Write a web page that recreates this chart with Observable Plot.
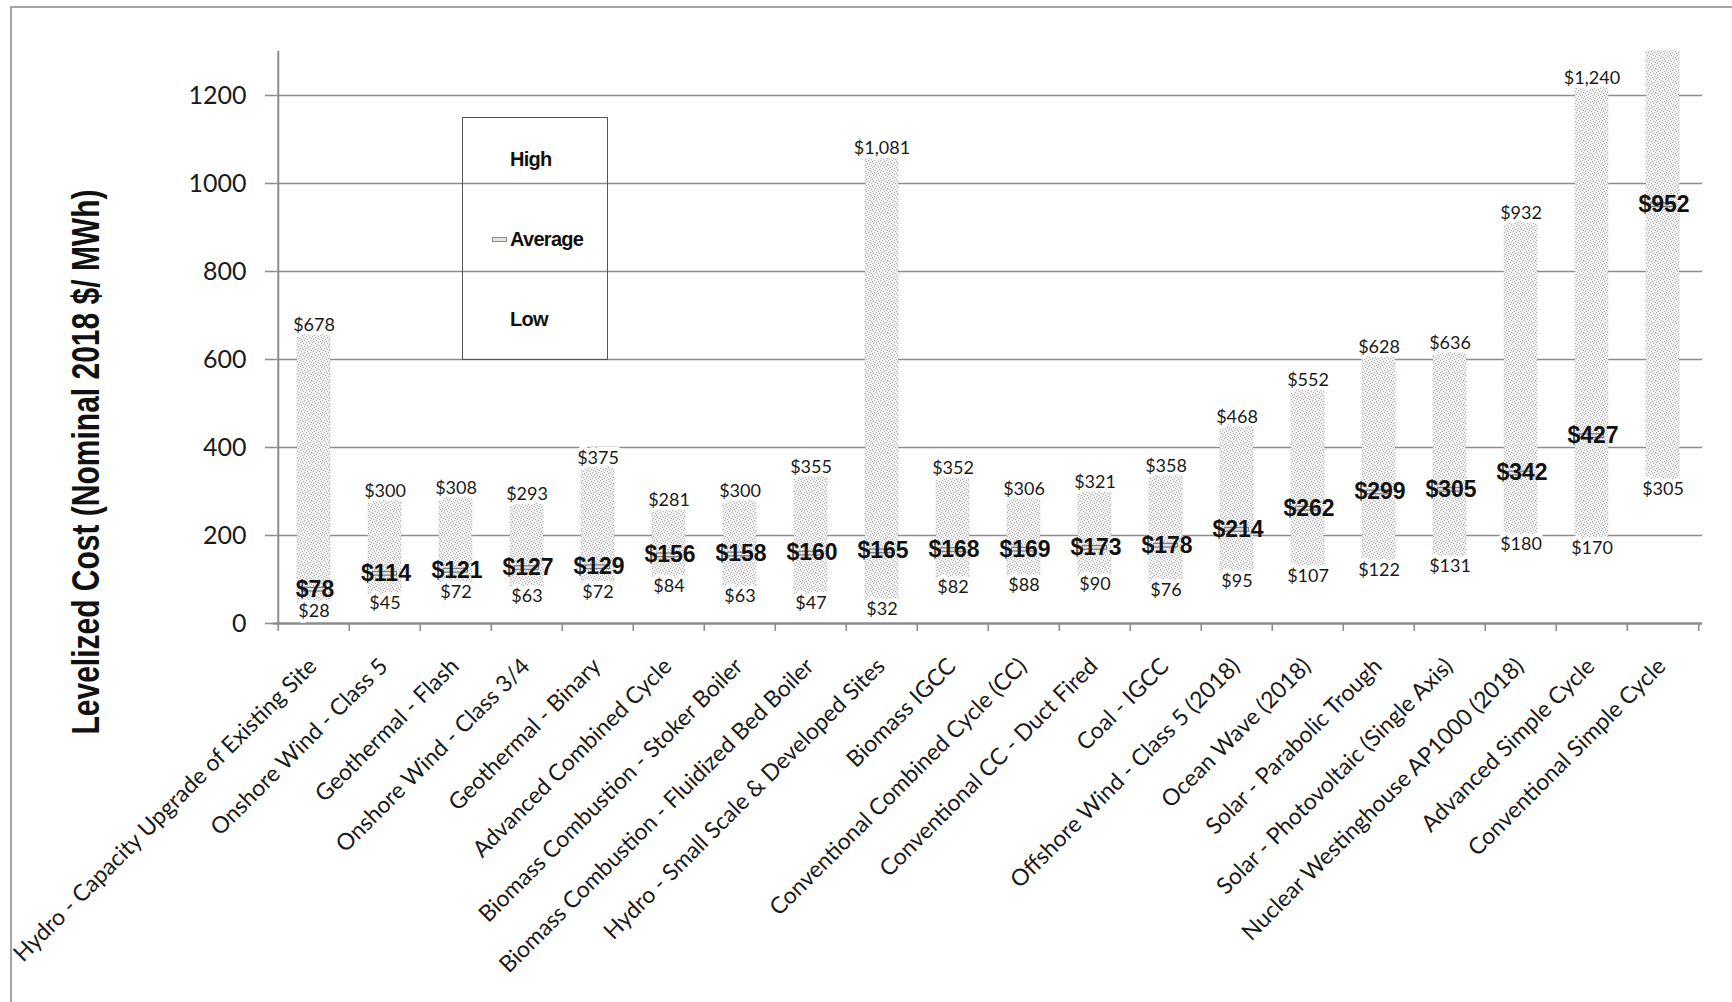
<!DOCTYPE html>
<html>
<head>
<meta charset="utf-8">
<script src="https://cdn.jsdelivr.net/npm/d3@7"></script>
<script src="https://cdn.jsdelivr.net/npm/@observablehq/plot@0.6"></script>
<style>
  html, body { margin: 0; padding: 0; background: #fff; overflow: hidden; }
  #wrap { position: relative; width: 1732px; height: 1002px; overflow: hidden; }
  #border { position: absolute; left: 10px; top: 6px; width: 1780px; height: 1060px; border: 2px solid #a6a6a6; box-sizing: border-box; pointer-events: none; }
  #legend { position: absolute; left: 462px; top: 117px; width: 146px; height: 243px; border: 1px solid #555; box-sizing: border-box;
            font-family: "Liberation Sans", Arial, sans-serif; font-weight: bold; font-size: 20px; color: #111; letter-spacing: -0.7px; }
  #legend .item { position: absolute; left: 47px; height: 22px; line-height: 22px; white-space: nowrap; }
  #legend .dash { position: absolute; left: 29px; width: 13px; height: 3px; border: 1px solid #8a8a8a; background: #e4e4e4; }
</style>
</head>
<body>
<div id="wrap">
  <div id="chart"></div>
  <div id="legend"></div>
  <div id="border"></div>
</div>
<script>
// ---- data ----
const categories = [
  "Hydro - Capacity Upgrade of Existing Site",
  "Onshore Wind - Class 5",
  "Geothermal - Flash",
  "Onshore Wind - Class 3/4",
  "Geothermal - Binary",
  "Advanced Combined Cycle",
  "Biomass Combustion - Stoker Boiler",
  "Biomass Combustion - Fluidized Bed Boiler",
  "Hydro - Small Scale & Developed Sites",
  "Biomass IGCC",
  "Conventional Combined Cycle (CC)",
  "Conventional CC - Duct Fired",
  "Coal - IGCC",
  "Offshore Wind - Class 5 (2018)",
  "Ocean Wave (2018)",
  "Solar - Parabolic Trough",
  "Solar - Photovoltaic (Single Axis)",
  "Nuclear Westinghouse AP1000 (2018)",
  "Advanced Simple Cycle",
  "Conventional Simple Cycle"
];
const lows     = [28, 45, 72, 63, 72, 84, 63, 47, 32, 82, 88, 90, 76, 95, 107, 122, 131, 180, 170, 305];
const averages = [78, 114, 121, 127, 129, 156, 158, 160, 165, 168, 169, 173, 178, 214, 262, 299, 305, 342, 427, 952];
// last bar runs off the top of the axis (no label shown); it is drawn to the axis maximum
const highs    = [678, 300, 308, 293, 375, 281, 300, 355, 1081, 352, 306, 321, 358, 468, 552, 628, 636, 932, 1240, 1300];
const yTicks = [0, 200, 400, 600, 800, 1000, 1200];
const yMax = 1300;
const yTitle = "Levelized Cost (Nominal 2018 $/ MWh)";
const legendItems = ["High", "Average", "Low"];

// ---- build ----
const data = categories.map((c, i) => ({category: c, low: lows[i], avg: averages[i], high: highs[i]}));
const W = 1732, H = 1002, mL = 273, mR = 30, mT = 51, mB = 379;
const pInner = 0.54, pOuter = 0.27;
const xs = Plot.scale({x: {type: "band", domain: categories, range: [mL, W - mR], paddingInner: pInner, paddingOuter: pOuter}});
const step = xs.step;
const fmt = d3.format("$,");

const chart = Plot.plot({
  width: W, height: H,
  marginLeft: mL, marginRight: mR, marginTop: mT, marginBottom: mB,
  x: {type: "band", domain: categories, paddingInner: pInner, paddingOuter: pOuter, axis: null},
  y: {domain: [0, yMax], axis: null},
  style: {fontFamily: "Lato, 'Open Sans', sans-serif", background: "#fff", overflow: "visible"},
  marks: [
    // gridlines
    Plot.ruleY(yTicks.filter(d => d > 0), {stroke: "#8c8c8c", strokeWidth: 1.6}),
    // y axis
    Plot.axisY({ticks: yTicks, tickFormat: d => String(d), tickSize: 8, tickPadding: 19, fontSize: 25, stroke: "#8c8c8c", fill: "#1a1a1a", strokeWidth: 1.6}),
    Plot.ruleX([categories[0]], {x: d => d, dx: -step / 2, y1: 0, y2: yMax, stroke: "#8c8c8c", strokeWidth: 2}),
    // bars
    Plot.barY(data, {x: "category", y1: "low", y2: "high", fill: "url(#stipple)", stroke: "#c4c4c4", strokeWidth: 1, strokeDasharray: "1,2"}),
    // x axis line + boundary ticks
    Plot.ruleY([0], {stroke: "#8c8c8c", strokeWidth: 2.4}),
    Plot.ruleX(categories, {x: d => d, dx: -step / 2, y1: 0, y2: -18, stroke: "#8c8c8c", strokeWidth: 1.6}),
    Plot.ruleX([categories[categories.length - 1]], {x: d => d, dx: step / 2, y1: 0, y2: -18, stroke: "#8c8c8c", strokeWidth: 1.6}),
    // average markers
    Plot.tickY(data, {x: "category", y: "avg", stroke: "#808080", strokeWidth: 5, insetLeft: 4, insetRight: 4}),
    Plot.tickY(data, {x: "category", y: "avg", stroke: "#e4e4e4", strokeWidth: 2.4, insetLeft: 5, insetRight: 5}),
    // labels
    Plot.text(data.filter(d => d.high < yMax), {x: "category", y: "high", text: d => fmt(d.high), fontSize: 18, fill: "#1a1a1a", stroke: "white", strokeWidth: 8}),
    Plot.text(data, {x: "category", y: "low", text: d => fmt(d.low), fontSize: 18, fill: "#1a1a1a", stroke: "white", strokeWidth: 8}),
    Plot.text(data, {x: "category", y: "avg", text: d => fmt(d.avg), fontFamily: "'Liberation Sans', Arial, sans-serif", fontWeight: "bold", fontSize: 23, fill: "#111", dx: 1}),
    // category labels
    Plot.text(categories, {x: d => d, y: () => 0, text: d => d, rotate: -45, textAnchor: "end", dx: -1, dy: 39, fontSize: 23, fill: "#1a1a1a"})
  ]
});

chart.insertAdjacentHTML("afterbegin", `<defs>
  <pattern id="stipple" width="6" height="6" patternUnits="userSpaceOnUse">
    <rect width="6" height="6" fill="#f0f0f0"/>
    <path d="M0 0h1v1H0zM3 1h1v1H3zM1 3h1v1H1zM4 4h1v1H4zM5 2h1v1H5zM2 5h1v1H2z" fill="#b0b0b0"/>
  </pattern>
</defs>`);

d3.select(chart).append("text")
  .attr("transform", "translate(99,462) rotate(-90)")
  .attr("text-anchor", "middle")
  .attr("textLength", 545)
  .attr("lengthAdjust", "spacingAndGlyphs")
  .style("font-family", "'Liberation Sans', Arial, sans-serif")
  .style("font-weight", "bold")
  .style("font-size", "38px")
  .style("fill", "#111")
  .text(yTitle);

document.getElementById("chart").appendChild(chart);

// legend
const legend = document.getElementById("legend");
const centers = [41, 121, 201];
legendItems.forEach((t, i) => {
  const d = document.createElement("div");
  d.className = "item";
  d.style.top = (centers[i] - 11) + "px";
  d.textContent = t;
  legend.appendChild(d);
  if (t === "Average") {
    const m = document.createElement("div");
    m.className = "dash";
    m.style.top = (centers[i] - 2) + "px";
    legend.appendChild(m);
  }
});
</script>
</body>
</html>
